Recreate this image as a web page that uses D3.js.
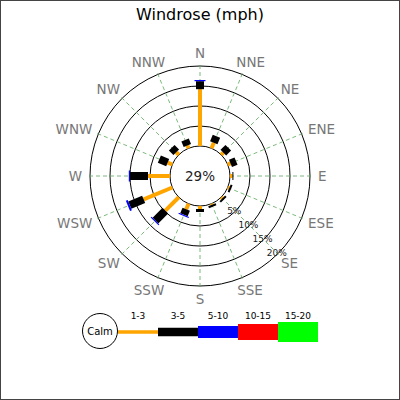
<html>
<head>
  <meta charset="utf-8">
  <script src="https://d3js.org/d3.v7.min.js"></script>
  <style>
    body { margin: 0; background: #fff; }
    text { font-family: "DejaVu Sans", sans-serif; }
  </style>
</head>
<body>
<script>
  // compass directions, clockwise from N
  var directions = ["N", "NNE", "NE", "ENE", "E", "ESE", "SE", "SSE",
                    "S", "SSW", "SW", "WSW", "W", "WNW", "NW", "NNW"];
  var rangeLabels = ["1-3", "3-5", "5-10", "10-15", "15-20"];
  var rangeColors = ["#ffa500", "#000000", "#0000ff", "#ff0000", "#00ff00"];
  // percent of time per direction, one array per speed range
  var range1 = [14.2, 1.5, 0.75, 0.75, 0.6, 0.4, 0.4, 0.3, 0.75, 1.5, 4.75, 7.75, 5.5, 1.25, 0.9, 0.75];
  var range2 = [2.0, 1.75, 1.75, 1.5, 0.25, 0.5, 0.5, 0.5, 0.75, 1.5, 3.5, 3.75, 4.5, 2.25, 1.6, 1.5];
  var range3 = [0.3, 0, 0, 0, 0, 0, 0, 0, 0, 0.3, 0.3, 0.5, 0.3, 0, 0, 0];
  var range4 = [0, 0, 0, 0, 0, 0, 0, 0, 0, 0, 0, 0, 0, 0, 0, 0];
  var range5 = [0, 0, 0, 0, 0, 0, 0, 0, 0, 0, 0, 0, 0, 0, 0, 0];
  var calm = 29;
  var gridTicks = [5, 10, 15, 20];

  var ranges = [range1, range2, range3, range4, range5];
  var widths = [4, 8, 11, 16, 20];
  var cx = 200, cy = 176, calmR = 30;

  var svg = d3.select("body").append("svg")
      .attr("width", 400).attr("height", 400);

  svg.append("rect")
      .attr("x", 0.5).attr("y", 0.5).attr("width", 399).attr("height", 399)
      .attr("fill", "#fff").attr("stroke", "#444");

  svg.append("text")
      .attr("x", 200).attr("y", 20)
      .attr("text-anchor", "middle")
      .style("font-size", "16px")
      .text("Windrose (mph)");

  var r = d3.scaleLinear().domain([0, 20]).range([calmR, 110]);
  var ang = d3.scaleLinear().domain([0, 16]).range([0, 2 * Math.PI]);

  function px(a, d) { return cx + d * Math.sin(a); }
  function py(a, d) { return cy - d * Math.cos(a); }

  var g = svg.append("g");

  // range circles
  g.selectAll("circle.grid").data(gridTicks).enter().append("circle")
      .attr("class", "grid")
      .attr("cx", cx).attr("cy", cy).attr("r", function(d) { return r(d); })
      .attr("fill", "none").attr("stroke", "#000").attr("stroke-width", 1);

  // spokes
  g.selectAll("line.spoke").data(directions).enter().append("line")
      .attr("class", "spoke")
      .attr("x1", function(d, i) { return px(ang(i), calmR); })
      .attr("y1", function(d, i) { return py(ang(i), calmR); })
      .attr("x2", function(d, i) { return px(ang(i), 112); })
      .attr("y2", function(d, i) { return py(ang(i), 112); })
      .attr("stroke", "#5aa85a").attr("stroke-width", 0.8)
      .attr("stroke-dasharray", "4,3");

  g.append("circle")
      .attr("cx", cx).attr("cy", cy).attr("r", calmR)
      .attr("fill", "#fff").attr("stroke", "#000");

  // stacked segments
  directions.forEach(function(dir, i) {
    var a = ang(i), acc = 0;
    ranges.forEach(function(vals, k) {
      var v = vals[i];
      if (v > 0) {
        g.append("line")
            .attr("x1", px(a, r(acc))).attr("y1", py(a, r(acc)))
            .attr("x2", px(a, r(acc + v))).attr("y2", py(a, r(acc + v)))
            .attr("stroke", rangeColors[k])
            .attr("stroke-width", widths[k])
            .attr("stroke-linecap", "butt");
      }
      acc += v;
    });
  });

  // direction labels
  directions.forEach(function(dir, i) {
    var a = ang(i), s = Math.sin(a), c = -Math.cos(a);
    var t = svg.append("text")
        .attr("text-anchor", "middle")
        .attr("fill", "#777")
        .style("font-size", "13.5px")
        .text(dir);
    var w = t.node().getComputedTextLength();
    var x = px(a, 118) + s * w / 2;
    var y = py(a, 118) + c * 5;
    t.attr("x", x).attr("y", y + 4.9);
  });

  // range labels along SE spoke
  var se = ang(6);
  svg.selectAll("text.tick").data(gridTicks).enter().append("text")
      .attr("class", "tick")
      .attr("x", function(d) { return px(se, r(d) - 1.5); })
      .attr("y", function(d) { return py(se, r(d) - 1.5) + 3.3; })
      .attr("text-anchor", "middle")
      .attr("fill", "#222")
      .style("font-size", "9px")
      .text(function(d) { return d + "%"; });

  svg.append("text")
      .attr("x", cx).attr("y", cy + 5)
      .attr("text-anchor", "middle")
      .attr("fill", "#222")
      .style("font-size", "13.5px")
      .text(calm + "%");

  // legend
  var lx = 118, ly = 332, segW = 40;
  svg.append("circle")
      .attr("cx", 100).attr("cy", 331).attr("r", 17.5)
      .attr("fill", "#fff").attr("stroke", "#000");
  svg.append("text")
      .attr("x", 100).attr("y", 334.5)
      .attr("text-anchor", "middle")
      .style("font-size", "10px")
      .text("Calm");
  var legendH = [3.5, 8.5, 12, 16, 20];
  rangeLabels.forEach(function(lab, k) {
    svg.append("rect")
        .attr("x", lx + k * segW).attr("y", ly - legendH[k] / 2)
        .attr("width", segW).attr("height", legendH[k])
        .attr("fill", rangeColors[k]);
    svg.append("text")
        .attr("x", lx + k * segW + segW / 2).attr("y", 318.5)
        .attr("text-anchor", "middle")
        .style("font-size", "9px")
        .text(lab);
  });
</script>
</body>
</html>
